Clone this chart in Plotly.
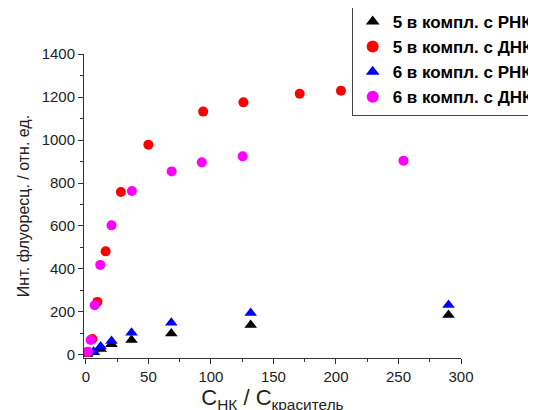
import plotly.graph_objects as go

# Data
x5_rna = [1, 6.2, 11.8, 20.5, 36.5, 68.3, 131.8, 290]
y5_rna = [5, 13, 28, 50, 70, 100, 140, 186]

x5_dna = [1, 5.2, 9.2, 15.8, 28, 50, 93.8, 126, 171, 204]
y5_dna = [14, 74, 247, 482, 758, 978, 1132, 1175, 1215, 1229]

x6_rna = [1, 6.2, 11.8, 20.5, 36.5, 68.3, 131.8, 290]
y6_rna = [10, 15, 39, 65, 104, 150, 195, 233]

x6_dna = [1.8, 3.8, 7, 11.5, 20.5, 36.8, 68.6, 92.7, 125.4, 254]
y6_dna = [15, 70, 231, 419, 603, 763, 854, 896, 924, 904]

names = ["5 в компл. с РНК", "5 в компл. с ДНК", "6 в компл. с РНК", "6 в компл. с ДНК"]
colors = ["#000000", "#ff0000", "#0000ff", "#ff00ff"]
symbols = ["triangle-up", "circle", "triangle-up", "circle"]

FONT = "Liberation Sans, Arial, sans-serif"

fig = go.Figure()
series = [(x5_rna, y5_rna), (x5_dna, y5_dna), (x6_rna, y6_rna), (x6_dna, y6_dna)]
for (xs, ys), n, c, s in zip(series, names, colors, symbols):
    fig.add_trace(go.Scatter(
        x=xs, y=ys, mode="markers", name=n,
        marker=dict(color=c, symbol=s, size=10 if s == "circle" else 11, line=dict(width=0)),
    ))

axis_common = dict(
    showline=True, linecolor="#333333", linewidth=1,
    ticks="outside", ticklen=5, tickcolor="#333333", tickwidth=1,
    showgrid=False, zeroline=False, mirror=False,
    tickfont=dict(family=FONT, size=15, color="#222222"),
    minor=dict(ticks="outside", ticklen=3, tickcolor="#333333", tickwidth=1),
)

# the page body adds an 8px offset, so margins are shifted to compensate
fig.update_layout(
    width=536, height=410,
    margin=dict(l=76, r=83, t=46, b=60, autoexpand=False),
    paper_bgcolor="white", plot_bgcolor="white",
    font=dict(family=FONT, size=15, color="#222222"),
    showlegend=True,
    legend=dict(
        x=0.71, y=1.168, xanchor="left", yanchor="top",
        bgcolor="white", bordercolor="#444444", borderwidth=1,
        font=dict(family=FONT, size=17, color="#000000", weight="bold"),
        tracegroupgap=0, itemsizing="constant",
    ),
    xaxis=dict(
        range=[-1.5, 300], tickvals=[0, 50, 100, 150, 200, 250, 300],
        minor_dtick=25,
        title=dict(text="C<sub>НК</sub> / C<sub>краситель</sub>", font=dict(family=FONT, size=22), standoff=1),
        **axis_common,
    ),
    yaxis=dict(
        range=[-14, 1400], tickvals=[0, 200, 400, 600, 800, 1000, 1200, 1400],
        minor_dtick=100,
        title=dict(text="Инт. флуоресц. / отн. ед.", font=dict(family=FONT, size=16), standoff=8),
        **axis_common,
    ),
)

fig.write_html("out.html")
